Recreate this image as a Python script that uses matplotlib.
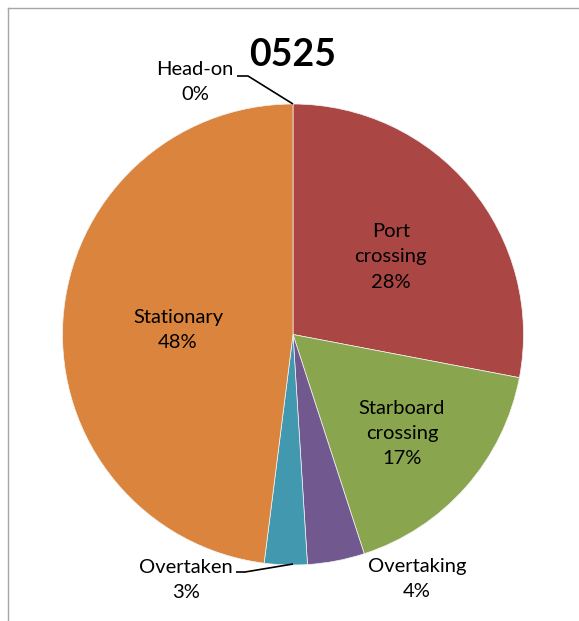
import numpy as np
import matplotlib.pyplot as plt
from matplotlib.lines import Line2D

plt.rcParams['font.family'] = ['Lato', 'DejaVu Sans']

# encounter types, clockwise from 12 o'clock
labels = ['Head-on', 'Port\ncrossing', 'Starboard\ncrossing', 'Overtaking', 'Overtaken', 'Stationary']
shares = [0, 28, 17, 4, 3, 48]
colors = ['#4572A7', '#AA4643', '#89A54E', '#71588F', '#4198AF', '#DB843D']
title = '0525'

W, H = 579, 621
fig = plt.figure(figsize=(W / 100, H / 100), dpi=100)
ax = fig.add_axes([0, 0, 1, 1])

cx, cy, R = 293, 286.5, 230.5
wedges, _ = ax.pie(shares, colors=colors, startangle=90, counterclock=False,
                   center=(cx, cy), radius=R, frame=True,
                   wedgeprops=dict(edgecolor='#F4F4F4', linewidth=0.5))
ax.set_xlim(0, W)
ax.set_ylim(0, H)
ax.set_aspect('equal')
ax.axis('off')

fs = 14.5
ls = 1.6
# inside labels: radial distance as fraction of radius
inside = {1: 0.55, 2: 0.63, 5: 0.50}
# outside labels: pixel offset of label from the wedge's rim point
outside = {0: (-98, 22), 3: (81, -18), 4: (-107, -16)}
# leader lines: points relative to rim point
leaders = {0: [(0, 0), (-45, 28), (-56, 28)], 4: [(0, 0), (-48, -8), (-57, -8)]}

for i, w in enumerate(wedges):
    mid = np.deg2rad((w.theta1 + w.theta2) / 2)
    txt = f'{labels[i]}\n{shares[i]:.0f}%'
    if i in inside:
        d = inside[i] * R
        ax.text(cx + d * np.cos(mid), cy + d * np.sin(mid) - 3, txt,
                ha='center', va='center', fontsize=fs, linespacing=ls)
    else:
        rx, ry = cx + R * np.cos(mid), cy + R * np.sin(mid)
        if i == 4:
            rx, ry = cx, cy - R + 1
        dx, dy = outside[i]
        ax.text(rx + dx, ry + dy, txt, ha='center', va='center',
                fontsize=fs, linespacing=ls)
        if i in leaders:
            pts = np.array(leaders[i], dtype=float)
            ax.plot(rx + pts[:, 0], ry + pts[:, 1], color='black', lw=1.2,
                    solid_capstyle='butt')

ax.text(cx, H - 55, title, ha='center', va='center', fontsize=27, fontweight='bold')

# chart-area border, only top and left inside the canvas
fig.add_artist(Line2D([8 / W, 1], [1 - 8 / H, 1 - 8 / H], color='#A6A6A6', lw=1.0))
fig.add_artist(Line2D([8 / W, 8 / W], [0, 1 - 8 / H], color='#A6A6A6', lw=1.0))

fig.savefig('out.png', dpi=100)
